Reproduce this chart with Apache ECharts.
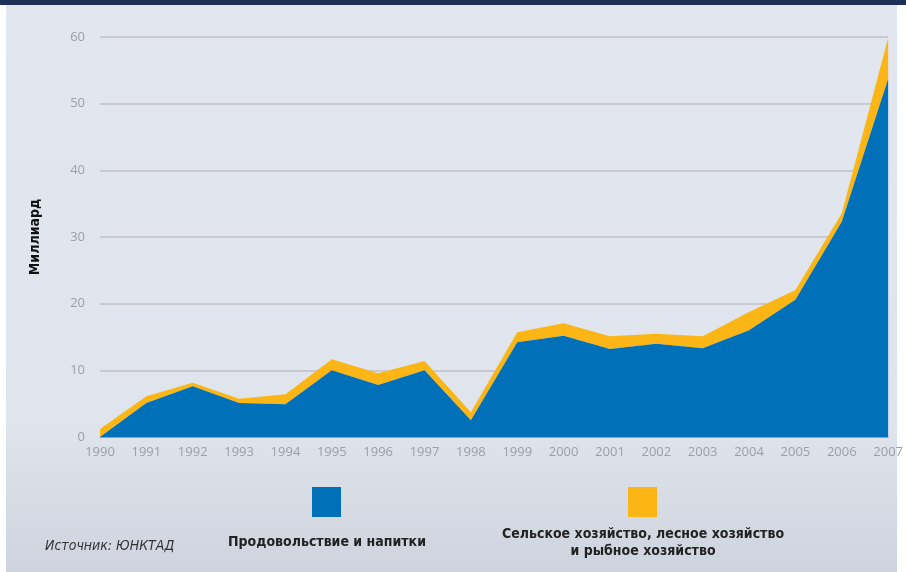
<!DOCTYPE html>
<html><head><meta charset="utf-8">
<script src="https://cdn.jsdelivr.net/npm/echarts@6/dist/echarts.min.js"></script>
<style>html,body{margin:0;padding:0;background:#fff}#c{width:906px;height:572px}</style>
</head><body><div id="c"></div>
<script>
const years = ['1990','1991','1992','1993','1994','1995','1996','1997','1998','1999','2000','2001','2002','2003','2004','2005','2006','2007'];
const foodBeverages = [0, 5.1, 7.6, 5.1, 4.9, 10.0, 7.8, 10.0, 2.5, 14.2, 15.2, 13.2, 14.0, 13.3, 16.0, 20.6, 32.3, 53.7];
const agriForestFish = [1.2, 1.0, 0.55, 0.65, 1.5, 1.65, 1.75, 1.4, 1.2, 1.5, 1.85, 1.9, 1.5, 1.8, 2.75, 1.45, 1.25, 6.15];
const seriesNames = ['Продовольствие и напитки', 'Сельское хозяйство, лесное хозяйство\nи рыбное хозяйство'];
const yAxisName = 'Миллиард';
const sourceText = 'Источник: ЮНКТАД';

const BLUE = '#0070b8', YELLOW = '#fbb615';
const chart = echarts.init(document.getElementById('c'), null, {renderer: 'canvas'});
const narrow = '"Liberation Sans Narrow","DejaVu Sans Condensed","Open Sans",sans-serif';
chart.setOption({
  animation: false,
  graphic: [
    {type: 'rect', z: -10, silent: true, shape: {x: 6, y: 0, width: 891, height: 572},
     style: {fill: {type: 'linear', x: 0, y: 0, x2: 0, y2: 1, colorStops: [
       {offset: 0, color: '#e2e6ee'}, {offset: 0.74, color: '#e0e4ec'}, {offset: 1, color: '#ced3dd'}]}}},
    {type: 'rect', z: 10, silent: true, shape: {x: 0, y: 0, width: 906, height: 5}, style: {fill: '#1f3158'}},
    {type: 'rect', shape: {x: 312, y: 487, width: 29, height: 30}, style: {fill: BLUE}},
    {type: 'rect', shape: {x: 628, y: 487, width: 29, height: 30}, style: {fill: YELLOW}},
    {type: 'text', style: {x: 327, y: 542, text: seriesNames[0], align: 'center', verticalAlign: 'middle',
      font: 'bold 14px ' + narrow, fill: '#222'}},
    {type: 'text', style: {x: 643, y: 543, text: seriesNames[1], align: 'center', verticalAlign: 'middle',
      font: 'bold 14px ' + narrow, fill: '#222', lineHeight: 17}},
    {type: 'text', style: {x: 45, y: 546, text: sourceText, align: 'left', verticalAlign: 'middle',
      font: 'italic 14px ' + narrow, fill: '#333'}}
  ],
  grid: {left: 100, right: 16, top: 37, bottom: 135},
  xAxis: {
    type: 'category', data: years, boundaryGap: false,
    axisLine: {show: true, lineStyle: {color: '#7fa6c8', width: 1}},
    axisTick: {show: false},
    axisLabel: {color: '#9aa0a8', fontSize: 13, fontFamily: '"Open Sans",sans-serif', margin: 9, interval: 0}
  },
  yAxis: {
    type: 'value', min: 0, max: 60, interval: 10,
    name: yAxisName, nameLocation: 'middle', nameRotate: 90, nameGap: 58,
    nameTextStyle: {color: '#111', fontWeight: 'bold', fontSize: 14, fontFamily: narrow},
    axisLine: {show: false}, axisTick: {show: false},
    axisLabel: {color: '#9aa0a8', fontSize: 13, fontFamily: '"Open Sans",sans-serif', margin: 15},
    splitLine: {lineStyle: {color: '#bfc0c4', width: 1.5}}
  },
  series: [
    {name: seriesNames[0], type: 'line', stack: 'a', data: foodBeverages, showSymbol: false,
     lineStyle: {width: 0}, areaStyle: {color: BLUE, opacity: 1}, z: 3},
    {name: seriesNames[1], type: 'line', stack: 'a', data: agriForestFish, showSymbol: false,
     lineStyle: {width: 0}, areaStyle: {color: YELLOW, opacity: 1}, z: 2}
  ]
});
</script></body></html>
